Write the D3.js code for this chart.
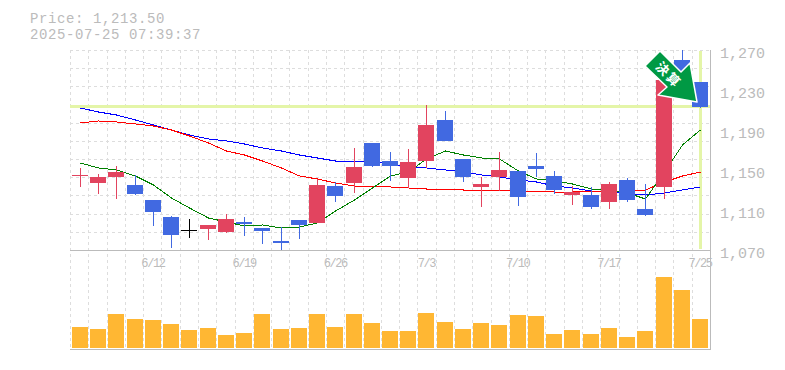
<!DOCTYPE html>
<html>
<head>
<meta charset="utf-8">
<script src="https://d3js.org/d3.v7.min.js"></script>
<style>
html,body{margin:0;padding:0;background:#fff;}
svg{display:block;}
text{font-family:"Liberation Mono",monospace;fill:#bbb;}
</style>
</head>
<body>
  <div id="chart"></div>
  <script>
    var dates = ["6/6","6/9","6/10","6/11","6/12","6/13","6/16","6/17","6/18","6/19","6/20","6/23","6/24","6/25","6/26","6/27","6/30","7/1","7/2","7/3","7/4","7/7","7/8","7/9","7/10","7/11","7/14","7/15","7/16","7/17","7/18","7/22","7/23","7/24","7/25"];
    var opens = [1144.5,1137,1143,1135,1120,1103,1090,1091,1088,1098,1092,1079,1100,1097,1134,1137,1177,1159,1142,1159,1200,1161,1133,1143,1149,1154,1144,1125,1125,1118,1140,1111,1133,1260,1238];
    var closes = [1145,1143,1148,1126,1108,1085,1090,1095,1101,1096,1089,1077,1095,1135,1124,1153,1154,1154,1158,1195,1179,1143,1136,1150,1123,1151,1130,1128,1113,1136,1120,1105,1240,1240,1213.5];
    var highs = [1152,1146,1154,1145,1120,1104,1101,1095,1106,1103,1092,1093,1100,1141,1138,1172,1177,1168,1171,1215,1209,1161,1143,1168,1149,1167,1149,1134,1133,1138,1142,1136,1243,1280,1238];
    var lows = [1133,1126,1121,1125,1094,1072,1082,1080,1087,1084,1076,1069,1081,1097,1118,1127,1153,1139,1132,1152,1179,1138,1113,1129,1114,1143,1126,1115,1111,1111,1118,1104,1121,1238,1212];
    var maShort = [1157,1152,1150,1144,1135,1122,1112,1102,1098,1094,1095,1092,1093,1097,1109,1120,1132,1144,1148,1161,1169,1165,1162,1161,1149,1141,1139,1136,1131,1129,1127,1121,1148,1175,1190];
    var maMid = [1197,1199,1198,1196,1194,1190,1184,1177,1169,1165,1159,1152,1144,1141,1137,1134,1134,1133,1132,1131,1131,1130,1130,1130,1129,1129,1128,1128,1129,1129,1129,1130,1138,1144,1148];
    var maLong = [1212,1208,1205,1200,1195,1190,1185,1181,1179,1176,1172,1169,1165,1162,1159,1159,1158,1156,1153,1152,1150,1148,1145,1143,1140,1138,1134,1132,1129,1128,1126,1125,1127,1130,1133];
    var volumes = [21,19,34,29,28,24,18,20,13,15,34,19,20,34,21,34,25,17,17,35,26,19,25,23,33,32,14,18,14,20,11,17,71,58,29];
    var priceTicks = [1270,1230,1190,1150,1110,1070];
    var dateTicks = ["6/12","6/19","6/26","7/3","7/10","7/17","7/25"];
    var lastPrice = 1213.5;

    var width = 785, height = 370;
    var left = 70, right = 710, top_ = 50, priceBottom = 250, volBottom = 350;

    var svg = d3.select("#chart").append("svg")
      .attr("width", width)
      .attr("height", height);

    var gridX = d3.scaleBand().domain(dates).range([left, right]);
    var x = d3.scaleBand().domain(dates).range([72, 708]).paddingInner(0.122);
    var y = d3.scaleLinear().domain([1070, 1270]).range([priceBottom, top_]);
    var yVol = d3.scaleLinear().domain([0, 100]).range([348, 248]);
    var cx = function(d) { return Math.round(x(d) + x.bandwidth() / 2); };

    // grid
    var grid = svg.append("g").attr("stroke", "#ddd").attr("stroke-dasharray", "3,3").attr("shape-rendering", "crispEdges");
    grid.selectAll(".v").data(dates).enter().append("line")
      .attr("x1", function(d) { return Math.round(gridX(d)) + 0.5; })
      .attr("x2", function(d) { return Math.round(gridX(d)) + 0.5; })
      .attr("y1", top_).attr("y2", volBottom);
    grid.selectAll(".h").data(d3.range(0, 11)).enter().append("line")
      .attr("x1", left).attr("x2", right)
      .attr("y1", function(i) { return Math.round(top_ + i * 200 / 11) + 0.5; })
      .attr("y2", function(i) { return Math.round(top_ + i * 200 / 11) + 0.5; });

    // current price / current day markers
    svg.append("line").attr("x1", left).attr("x2", right)
      .attr("y1", y(lastPrice)).attr("y2", y(lastPrice))
      .attr("stroke", "#e4f5a8").attr("stroke-width", 3);
    svg.append("line").attr("x1", cx("7/25") + 0.5).attr("x2", cx("7/25") + 0.5)
      .attr("y1", top_ + 1).attr("y2", priceBottom - 1)
      .attr("stroke", "#e4f5a8").attr("stroke-width", 3);

    // frame
    var frame = svg.append("g").attr("stroke", "#bbb").attr("shape-rendering", "crispEdges");
    frame.append("line").attr("x1", left).attr("x2", right).attr("y1", priceBottom + 0.5).attr("y2", priceBottom + 0.5);
    frame.append("line").attr("x1", left).attr("x2", right + 1).attr("y1", volBottom - 0.5).attr("y2", volBottom - 0.5);
    frame.append("line").attr("x1", right + 0.5).attr("x2", right + 0.5).attr("y1", top_).attr("y2", volBottom);

    svg.append("clipPath").attr("id", "plot").append("rect")
      .attr("x", left).attr("y", top_).attr("width", right - left).attr("height", priceBottom - top_);
    var plot = svg.append("g").attr("clip-path", "url(#plot)");

    // moving averages
    var line = d3.line()
      .x(function(d, i) { return cx(dates[i]) + 0.5; })
      .y(function(d) { return y(d); });
    [[maLong, "#0000ff"], [maMid, "#ff0000"], [maShort, "#008000"]].forEach(function(s) {
      plot.append("path").attr("d", line(s[0]))
        .attr("fill", "none").attr("stroke", s[1]).attr("stroke-width", 1)
        .attr("shape-rendering", "crispEdges");
    });

    // candles
    function color(i) {
      if (opens[i] == closes[i]) return "#000";
      return closes[i] > opens[i] ? "#e2445f" : "#4169e1";
    }
    var candle = plot.selectAll(".candle").data(dates).enter().append("g")
      .attr("class", "candle").attr("shape-rendering", "crispEdges");
    candle.append("line")
      .attr("x1", function(d) { return cx(d) + 0.5; })
      .attr("x2", function(d) { return cx(d) + 0.5; })
      .attr("y1", function(d, i) { return y(highs[i]); })
      .attr("y2", function(d, i) { return y(lows[i]); })
      .attr("stroke", function(d, i) { return color(i); });
    candle.append("rect")
      .attr("x", function(d) { return cx(d) - 8; })
      .attr("width", 16)
      .attr("y", function(d, i) { return y(Math.max(opens[i], closes[i])); })
      .attr("height", function(d, i) { return Math.max(1, Math.abs(y(opens[i]) - y(closes[i]))); })
      .attr("fill", function(d, i) { return color(i); });

    // volume
    svg.selectAll(".vol").data(volumes).enter().append("rect")
      .attr("class", "vol")
      .attr("x", function(d, i) { return cx(dates[i]) - 8; })
      .attr("width", 16)
      .attr("y", function(d) { return yVol(d); })
      .attr("height", function(d) { return yVol(0) - yVol(d); })
      .attr("fill", "#ffb733");

    // axes
    var yAxis = d3.axisRight(y).tickValues(priceTicks).tickFormat(d3.format(",")).tickSize(0).tickPadding(0);
    var gy = svg.append("g").attr("transform", "translate(720,0)").call(yAxis);
    gy.select(".domain").remove();
    gy.selectAll("text").attr("font-size", 15).attr("font-family", null).attr("dy", "0.35em").attr("y", 2);

    var xAxis = d3.axisBottom(x).tickValues(dateTicks).tickSize(0).tickPadding(0);
    var gx = svg.append("g").attr("transform", "translate(0,258)").call(xAxis);
    gx.select(".domain").remove();
    gx.selectAll("text").attr("font-size", 12).attr("font-family", null).attr("dy", "0.71em").attr("y", 0)
      .attr("letter-spacing", -1.4);

    // header
    svg.append("text").attr("x", 30).attr("y", 22.5).attr("font-size", 14).attr("letter-spacing", 0.6)
      .text("Price: " + d3.format(",.2f")(lastPrice));
    svg.append("text").attr("x", 30).attr("y", 38.5).attr("font-size", 14).attr("letter-spacing", 0.6)
      .text("2025-07-25 07:39:37");

    // event arrow on 7/23
    var ax = cx("7/23") - 20, ay = y(1270);
    var arrow = svg.append("g").attr("transform", "translate(" + ax + "," + ay + ")");
    arrow.append("path")
      .attr("d", "M" + [[16, 1], [1, 16], [23, 37], [14, 45], [53, 52], [46, 13], [37, 22]].join("L") + "Z")
      .attr("fill", "#009944").attr("stroke", "#fff").attr("stroke-width", 1.5).attr("stroke-linejoin", "round");
    arrow.append("g").attr("transform", "translate(24.5,25) rotate(45)")
      .append("text")
      .attr("text-anchor", "middle").attr("y", 4.5)
      .style("font-family", '"Noto Sans CJK JP"').style("font-weight", "bold").style("font-size", "13px")
      .style("fill", "#fff").attr("letter-spacing", 2)
      .text("決算");
  </script>
</body>
</html>
